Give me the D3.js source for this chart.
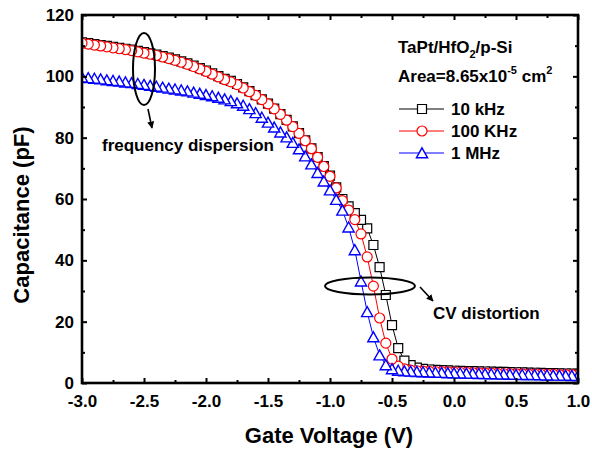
<!DOCTYPE html>
<html><head><meta charset="utf-8">
<script src="https://cdn.jsdelivr.net/npm/d3@7/dist/d3.min.js"></script>
<style>
body{margin:0;background:#fff}
svg{display:block}
text{font-family:"Liberation Sans",Arial,Helvetica,sans-serif;font-weight:bold;fill:#000}
</style>
</head><body>
<svg id="chart" width="592" height="452"></svg>
<script>
// ---------------- data ----------------
const voltage = [
 -3.00,-2.95,-2.90,-2.85,-2.80,-2.75,-2.70,-2.65,-2.60,-2.55,
 -2.50,-2.45,-2.40,-2.35,-2.30,-2.25,-2.20,-2.15,-2.10,-2.05,
 -2.00,-1.95,-1.90,-1.85,-1.80,-1.75,-1.70,-1.65,-1.60,-1.55,
 -1.50,-1.45,-1.40,-1.35,-1.30,-1.25,-1.20,-1.15,-1.10,-1.05,
 -1.00,-0.95,-0.90,-0.85,-0.80,-0.75,-0.70,-0.65,-0.60,-0.55,
 -0.50,-0.45,-0.40,-0.35,-0.30,-0.25,-0.20,-0.15,-0.10,-0.05,
  0.00, 0.05, 0.10, 0.15, 0.20, 0.25, 0.30, 0.35, 0.40, 0.45,
  0.50, 0.55, 0.60, 0.65, 0.70, 0.75, 0.80, 0.85, 0.90, 0.95,
  1.00];
const cap10kHz = [
 111.1,110.8,110.5,110.2,109.9,109.6,109.3,109.0,108.7,108.3,
 107.9,107.5,107.1,106.6,106.1,105.5,104.9,104.2,103.5,102.7,
 101.9,101.0,100.1,99.2,98.5,97.5,96.4,95.2,93.9,92.5,
 91.1,89.5,87.7,85.8,83.7,81.5,79.1,76.5,73.7,70.7,
 67.6,63.8,60.0,57.6,55.4,53.2,50.4,45.0,37.8,28.7,
 18.9,11.4,7.3,5.8,5.0,4.6,4.4,4.3,4.2,4.1,
 4.0,3.95,3.9,3.85,3.8,3.75,3.7,3.65,3.6,3.55,
 3.5,3.45,3.4,3.35,3.3,3.25,3.2,3.15,3.1,3.05,
 3.0];
const cap100kHz = [
 110.8,110.5,110.2,109.9,109.6,109.3,109.0,108.7,108.4,108.0,
 107.6,107.2,106.8,106.3,105.8,105.2,104.6,103.9,103.2,102.4,
 101.6,100.7,99.8,98.9,98.2,97.3,96.2,95.0,93.8,92.4,
 91.0,89.4,87.6,85.7,83.6,81.4,79.0,76.4,73.6,70.6,
 67.4,63.6,59.5,56.4,53.3,48.6,41.1,31.6,21.2,13.0,
 7.8,5.5,4.6,4.2,4.0,3.9,3.8,3.75,3.7,3.6,
 3.55,3.5,3.45,3.4,3.3,3.25,3.2,3.15,3.1,3.05,
 3.0,2.95,2.9,2.9,2.85,2.8,2.8,2.75,2.7,2.7,
 2.65];
const cap1MHz = [
 99.7,99.5,99.3,99.1,98.8,98.6,98.4,98.1,97.9,97.6,
 97.3,97.0,96.7,96.4,96.1,95.8,95.5,95.2,94.8,94.4,
 94.0,93.6,93.1,92.6,92.0,91.3,90.5,89.4,88.1,86.6,
 85.0,83.4,81.8,80.2,78.4,76.3,74.0,71.4,68.6,65.8,
 62.9,59.8,56.3,50.8,43.4,33.2,23.2,15.0,9.1,5.9,
 4.6,4.1,3.9,3.8,3.7,3.6,3.5,3.45,3.4,3.3,
 3.25,3.2,3.15,3.1,3.05,3.0,2.95,2.9,2.85,2.8,
 2.75,2.7,2.7,2.65,2.6,2.55,2.5,2.5,2.45,2.4,
 2.4];
const seriesNames = ["10 kHz","100 KHz","1 MHz"];
const xTicks = [-3.0,-2.5,-2.0,-1.5,-1.0,-0.5,0.0,0.5,1.0];
const xMinorTicks = [-2.75,-2.25,-1.75,-1.25,-0.75,-0.25,0.25,0.75];
const yTicks = [0,20,40,60,80,100,120];
const yMinorTicks = [10,30,50,70,90,110];

// ---------------- layout ----------------
const L=82, R=578, T=15, B=383;
const svg = d3.select("#chart");
const x = d3.scaleLinear().domain([-3,1]).range([L,R]);
const y = d3.scaleLinear().domain([0,120]).range([B,T]);

svg.append("defs").append("clipPath").attr("id","plotclip")
  .append("rect").attr("x",L).attr("y",T).attr("width",R-L).attr("height",B-T);

const shapes = {
  square:"M-4.5,-4.5h9v9h-9Z",
  circle:"M5,0A5,5 0 1,1 -5,0A5,5 0 1,1 5,0Z",
  triangle:"M0,-5.2L5.6,4.8L-5.6,4.8Z"
};
const styles = [
  {color:"#000000", shape:"square", sw:1.2},
  {color:"#ff0000", shape:"circle", sw:1.2},
  {color:"#0000ff", shape:"triangle", sw:1.4}
];
const seriesValues = [cap10kHz, cap100kHz, cap1MHz];

// ---------------- series ----------------
const plot = svg.append("g").attr("clip-path","url(#plotclip)");
const line = d3.line().x(d=>x(d[0])).y(d=>y(d[1]));
seriesValues.forEach((vals,i)=>{
  const st = styles[i];
  const pts = voltage.map((v,k)=>[v, vals[k]]);
  plot.append("path").attr("d", line(pts)).attr("fill","none")
    .attr("stroke", st.color).attr("stroke-width",1);
  // sweep recorded from +1 V toward -3 V: later points drawn on top
  plot.append("g").selectAll("path").data(pts.slice().reverse()).join("path")
    .attr("d", shapes[st.shape])
    .attr("transform", d=>`translate(${x(d[0])},${y(d[1])})`)
    .attr("fill","#fff").attr("stroke", st.color).attr("stroke-width", st.sw);
});

// ---------------- axes ----------------
function styleAxis(sel){
  sel.select(".domain").remove();
  sel.selectAll(".tick line").attr("stroke","#000").attr("stroke-width",2);
  sel.selectAll("text").attr("font-size",17).attr("fill","#000")
    .attr("font-family",'"Liberation Sans",Arial,sans-serif').attr("font-weight","bold");
}
const fmtX = d => (d<0?"-":"") + Math.abs(d).toFixed(1);
svg.append("g").attr("transform",`translate(0,${B})`)
  .call(d3.axisBottom(x).tickValues(xTicks).tickSize(-5).tickPadding(12).tickFormat(fmtX)).call(styleAxis);
svg.append("g").attr("transform",`translate(0,${B})`)
  .call(d3.axisBottom(x).tickValues(xMinorTicks).tickSize(-3).tickFormat("")).call(styleAxis);
svg.append("g").attr("transform",`translate(0,${T})`)
  .call(d3.axisTop(x).tickValues(xTicks).tickSize(-5).tickFormat("")).call(styleAxis);
svg.append("g").attr("transform",`translate(0,${T})`)
  .call(d3.axisTop(x).tickValues(xMinorTicks).tickSize(-3).tickFormat("")).call(styleAxis);
svg.append("g").attr("transform",`translate(${L},0)`)
  .call(d3.axisLeft(y).tickValues(yTicks).tickSize(-5).tickPadding(8).tickFormat(d3.format("d"))).call(styleAxis);
svg.append("g").attr("transform",`translate(${L},0)`)
  .call(d3.axisLeft(y).tickValues(yMinorTicks).tickSize(-3).tickFormat("")).call(styleAxis);
svg.append("g").attr("transform",`translate(${R},0)`)
  .call(d3.axisRight(y).tickValues(yTicks).tickSize(-5).tickFormat("")).call(styleAxis);
svg.append("g").attr("transform",`translate(${R},0)`)
  .call(d3.axisRight(y).tickValues(yMinorTicks).tickSize(-3).tickFormat("")).call(styleAxis);

svg.append("rect").attr("x",L).attr("y",T).attr("width",R-L).attr("height",B-T)
  .attr("fill","none").attr("stroke","#000").attr("stroke-width",2.6);

// axis titles
svg.append("text").attr("x",(L+R)/2 - 1).attr("y",443).attr("text-anchor","middle")
  .attr("font-size",22).text("Gate Voltage (V)");
svg.append("text").attr("transform",`translate(29,${(T+B)/2+16}) rotate(-90)`)
  .attr("text-anchor","middle").attr("font-size",22).text("Capacitance (pF)");

// ---------------- header / legend ----------------
const info = svg.append("g");
const t1 = info.append("text").attr("x",398).attr("y",53).attr("font-size",17);
t1.append("tspan").text("TaPt/HfO");
t1.append("tspan").attr("dy",5).attr("font-size",11).text("2");
t1.append("tspan").attr("dy",-5).text("/p-Si");
const t2 = info.append("text").attr("x",398).attr("y",82).attr("font-size",17);
t2.append("tspan").text("Area=8.65x10");
t2.append("tspan").attr("dy",-8).attr("font-size",11).text("-5");
t2.append("tspan").attr("dy",8).text(" cm");
t2.append("tspan").attr("dy",-8).attr("font-size",11).text("2");

const legY = [109,131,153];
seriesNames.forEach((name,i)=>{
  const st = styles[i];
  const g = svg.append("g").attr("transform",`translate(0,${legY[i]})`);
  g.append("line").attr("x1",399).attr("x2",444).attr("y1",0).attr("y2",0)
    .attr("stroke",st.color).attr("stroke-width",1);
  g.append("path").attr("d",shapes[st.shape]).attr("transform","translate(422,0)")
    .attr("fill","#fff").attr("stroke",st.color).attr("stroke-width",st.sw);
  g.append("text").attr("x",451).attr("y",6).attr("font-size",17).text(name);
});

// ---------------- annotations ----------------
const defs = svg.select("defs");
defs.append("marker").attr("id","ah").attr("viewBox","0 0 10 10").attr("refX",9).attr("refY",5)
  .attr("markerWidth",7).attr("markerHeight",7).attr("markerUnits","userSpaceOnUse").attr("orient","auto")
  .append("path").attr("d","M0,0L10,5L0,10Z").attr("fill","#000");

svg.append("ellipse").attr("cx",144).attr("cy",69).attr("rx",11).attr("ry",36)
  .attr("fill","none").attr("stroke","#000").attr("stroke-width",2);
svg.append("line").attr("x1",148).attr("y1",109).attr("x2",152).attr("y2",128)
  .attr("stroke","#000").attr("stroke-width",1.6).attr("marker-end","url(#ah)");
svg.append("text").attr("x",102).attr("y",151).attr("font-size",17).text("frequency dispersion");

svg.append("ellipse").attr("cx",370).attr("cy",286).attr("rx",45).attr("ry",8.5)
  .attr("fill","none").attr("stroke","#000").attr("stroke-width",2);
svg.append("line").attr("x1",420).attr("y1",287).attr("x2",433).attr("y2",301)
  .attr("stroke","#000").attr("stroke-width",1.6).attr("marker-end","url(#ah)");
svg.append("text").attr("x",433).attr("y",319).attr("font-size",17).text("CV distortion");
</script>
</body></html>
